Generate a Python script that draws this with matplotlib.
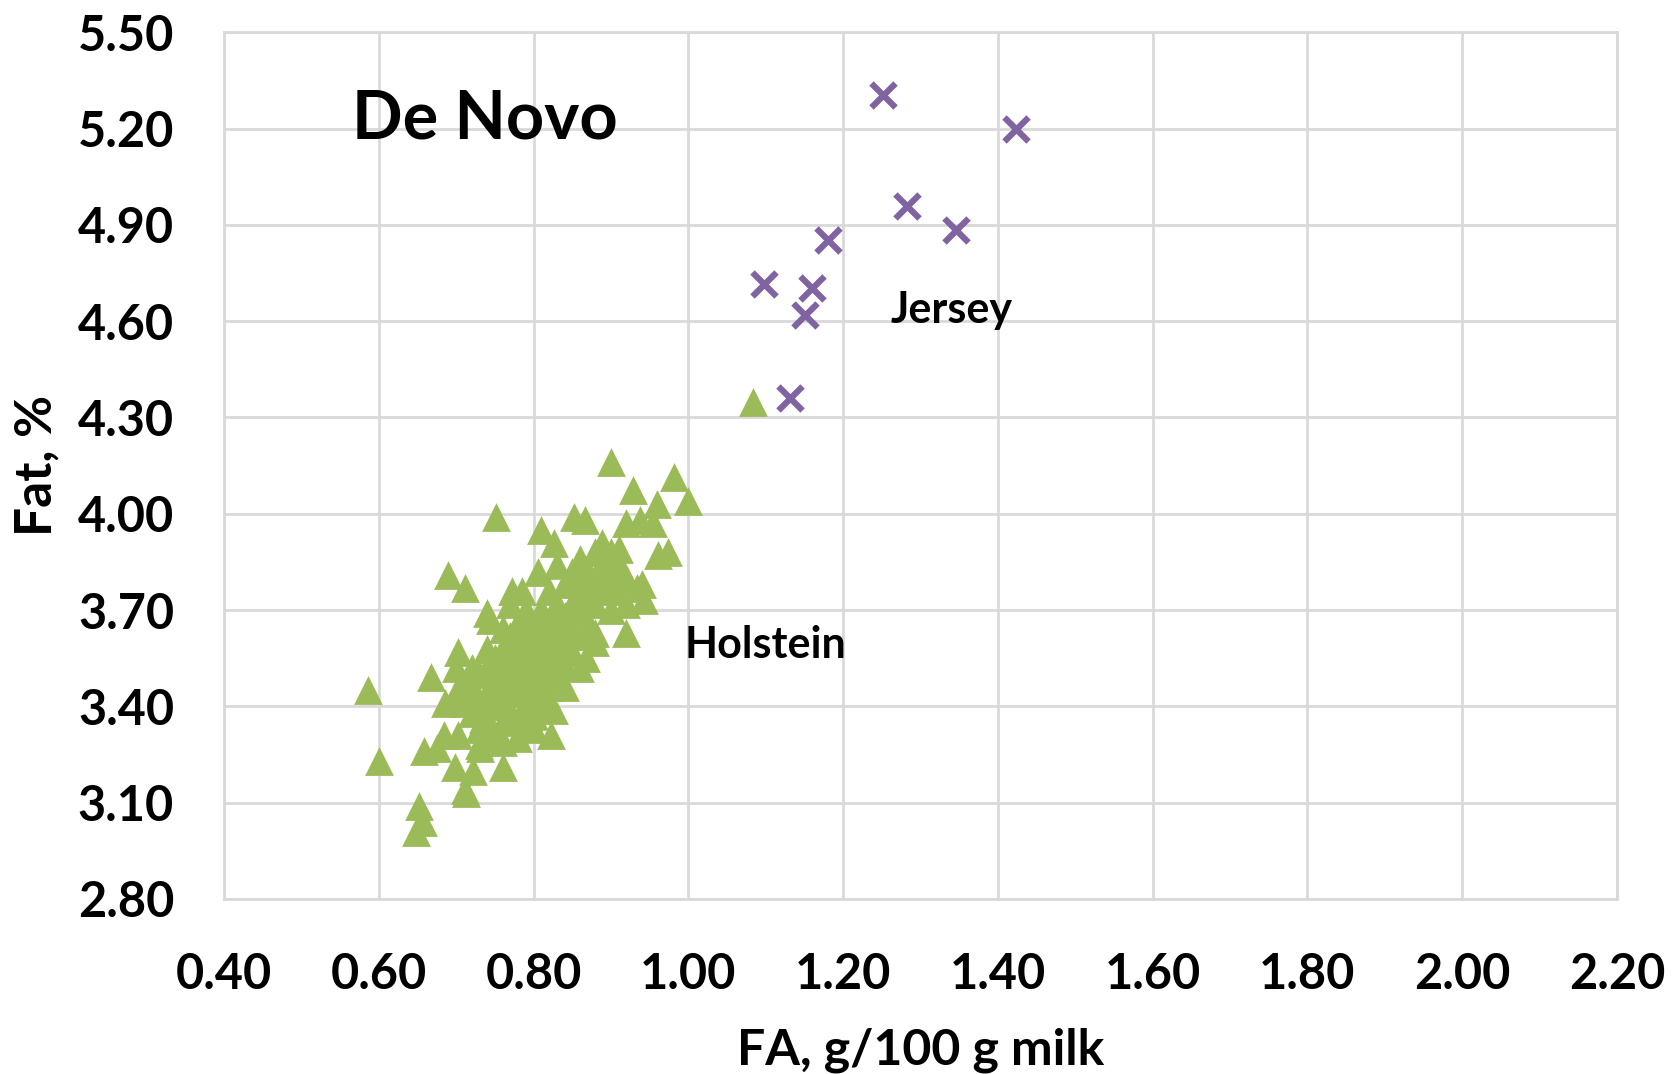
import numpy as np
import matplotlib
matplotlib.use('Agg')
import matplotlib.pyplot as plt

# Holstein points (FA g/100 g milk, fat %)
holstein_fa = [1.083, 0.900, 0.981, 1.000, 0.928, 0.959, 0.751, 0.810, 0.852, 0.866,
               0.937, 0.919, 0.955, 0.827, 0.889, 0.910, 0.974, 0.961, 0.689, 0.711,
               0.806, 0.934, 0.943, 0.772, 0.785, 0.740, 0.744, 0.919, 0.879, 0.868,
               0.667, 0.586, 0.703, 0.686, 0.600, 0.659, 0.675, 0.684, 0.703, 0.699,
               0.722, 0.711, 0.713, 0.761, 0.748, 0.823, 0.652, 0.657, 0.648, 0.731,
               0.786, 0.827, 0.817, 0.800,
               0.72, 0.72, 0.73, 0.73, 0.73, 0.74, 0.74, 0.74, 0.75, 0.75,
               0.75, 0.75, 0.76, 0.76, 0.76, 0.76, 0.77, 0.77, 0.77, 0.77,
               0.77, 0.78, 0.78, 0.78, 0.78, 0.78, 0.79, 0.79, 0.79, 0.79,
               0.79, 0.80, 0.80, 0.80, 0.80, 0.80, 0.81, 0.81, 0.81, 0.81,
               0.81, 0.82, 0.82, 0.82, 0.82, 0.82, 0.83, 0.83, 0.83, 0.83,
               0.83, 0.84, 0.84, 0.84, 0.84, 0.85, 0.85, 0.85, 0.85, 0.86,
               0.86, 0.86, 0.86, 0.87, 0.87, 0.87, 0.88, 0.88, 0.88, 0.89,
               0.89, 0.90, 0.90, 0.91, 0.91, 0.92, 0.76, 0.74, 0.72, 0.71,
               0.71, 0.70, 0.70, 0.73, 0.76, 0.78, 0.80, 0.82, 0.84, 0.86,
               0.88, 0.90, 0.92, 0.94,
               0.795, 0.805, 0.815, 0.805, 0.795, 0.815, 0.825, 0.835, 0.845, 0.855,
               0.765, 0.775, 0.785, 0.865, 0.875, 0.885, 0.895, 0.905, 0.745, 0.735]
holstein_fat = [4.347, 4.16, 4.115, 4.04, 4.075, 4.03, 3.99, 3.95, 3.99, 3.98,
                3.98, 3.97, 3.97, 3.91, 3.91, 3.89, 3.88, 3.87, 3.81, 3.77,
                3.82, 3.77, 3.73, 3.76, 3.76, 3.69, 3.67, 3.63, 3.63, 3.55,
                3.49, 3.45, 3.57, 3.41, 3.23, 3.26, 3.27, 3.31, 3.31, 3.21,
                3.20, 3.14, 3.13, 3.21, 3.31, 3.31, 3.09, 3.04, 3.01, 3.27,
                3.34, 3.39, 3.42, 3.39,
                3.38, 3.45, 3.33, 3.42, 3.50, 3.36, 3.44, 3.52, 3.30, 3.40,
                3.47, 3.55, 3.35, 3.43, 3.50, 3.58, 3.38, 3.46, 3.53, 3.62,
                3.72, 3.36, 3.44, 3.51, 3.58, 3.66, 3.40, 3.48, 3.55, 3.62,
                3.70, 3.37, 3.45, 3.52, 3.58, 3.65, 3.42, 3.50, 3.56, 3.62,
                3.70, 3.46, 3.53, 3.60, 3.67, 3.76, 3.50, 3.57, 3.64, 3.72,
                3.84, 3.53, 3.60, 3.68, 3.78, 3.57, 3.65, 3.72, 3.82, 3.62,
                3.70, 3.78, 3.86, 3.66, 3.74, 3.82, 3.72, 3.80, 3.88, 3.76,
                3.84, 3.80, 3.88, 3.84, 3.76, 3.80, 3.64, 3.58, 3.52, 3.47,
                3.41, 3.44, 3.52, 3.28, 3.29, 3.30, 3.33, 3.40, 3.46, 3.52,
                3.60, 3.70, 3.72, 3.78,
                3.52, 3.56, 3.60, 3.48, 3.44, 3.52, 3.58, 3.62, 3.66, 3.72,
                3.48, 3.52, 3.56, 3.74, 3.78, 3.82, 3.78, 3.82, 3.40, 3.36]

# Jersey points
jersey_fa = [1.251, 1.423, 1.283, 1.346, 1.181, 1.098, 1.160, 1.151, 1.131]
jersey_fat = [5.304, 5.198, 4.958, 4.885, 4.852, 4.716, 4.703, 4.620, 4.360]

xticks = [0.40, 0.60, 0.80, 1.00, 1.20, 1.40, 1.60, 1.80, 2.00, 2.20]
yticks = [2.80, 3.10, 3.40, 3.70, 4.00, 4.30, 4.60, 4.90, 5.20, 5.50]

plt.rcParams['font.family'] = ['Lato', 'DejaVu Sans']
plt.rcParams['font.weight'] = 'bold'

fig = plt.figure(figsize=(16.72, 10.74), dpi=100)
ax = fig.add_axes([0.134, 0.163, 0.833, 0.807])

ax.scatter(holstein_fa, holstein_fat, marker='^', s=430, color='#9bbb59',
           linewidths=0, zorder=3)
ax.scatter(jersey_fa, jersey_fat, marker='x', s=300, color='#8064a2',
           linewidths=4.5, zorder=3)

ax.set_xlim(0.40, 2.20)
ax.set_ylim(2.80, 5.50)
ax.set_xticks(xticks)
ax.set_yticks(yticks)
ax.set_xticklabels(['%.2f' % v for v in xticks])
ax.set_yticklabels(['%.2f' % v for v in yticks])
ax.tick_params(axis='both', length=0, labelsize=35)
ax.tick_params(axis='y', pad=36)
ax.tick_params(axis='x', pad=38)
ax.grid(True, color='#d9d9d9', lw=2)
ax.set_axisbelow(True)
for s in ax.spines.values():
    s.set_color('#d9d9d9')
    s.set_linewidth(2)

ax.set_xlabel('FA, g/100 g milk', fontsize=36, fontweight='bold')
ax.xaxis.set_label_coords(0.5, -0.148)
ax.set_ylabel('Fat, %', fontsize=37, fontweight='bold', labelpad=12)

ax.text(0.565, 5.228, 'De Novo', fontsize=48, fontweight='bold', va='center')
ax.text(1.262, 4.636, 'Jersey', fontsize=31, fontweight='bold', va='center')
ax.text(0.995, 3.59, 'Holstein', fontsize=31, fontweight='bold', va='center')

fig.savefig('out.png', dpi=100)
